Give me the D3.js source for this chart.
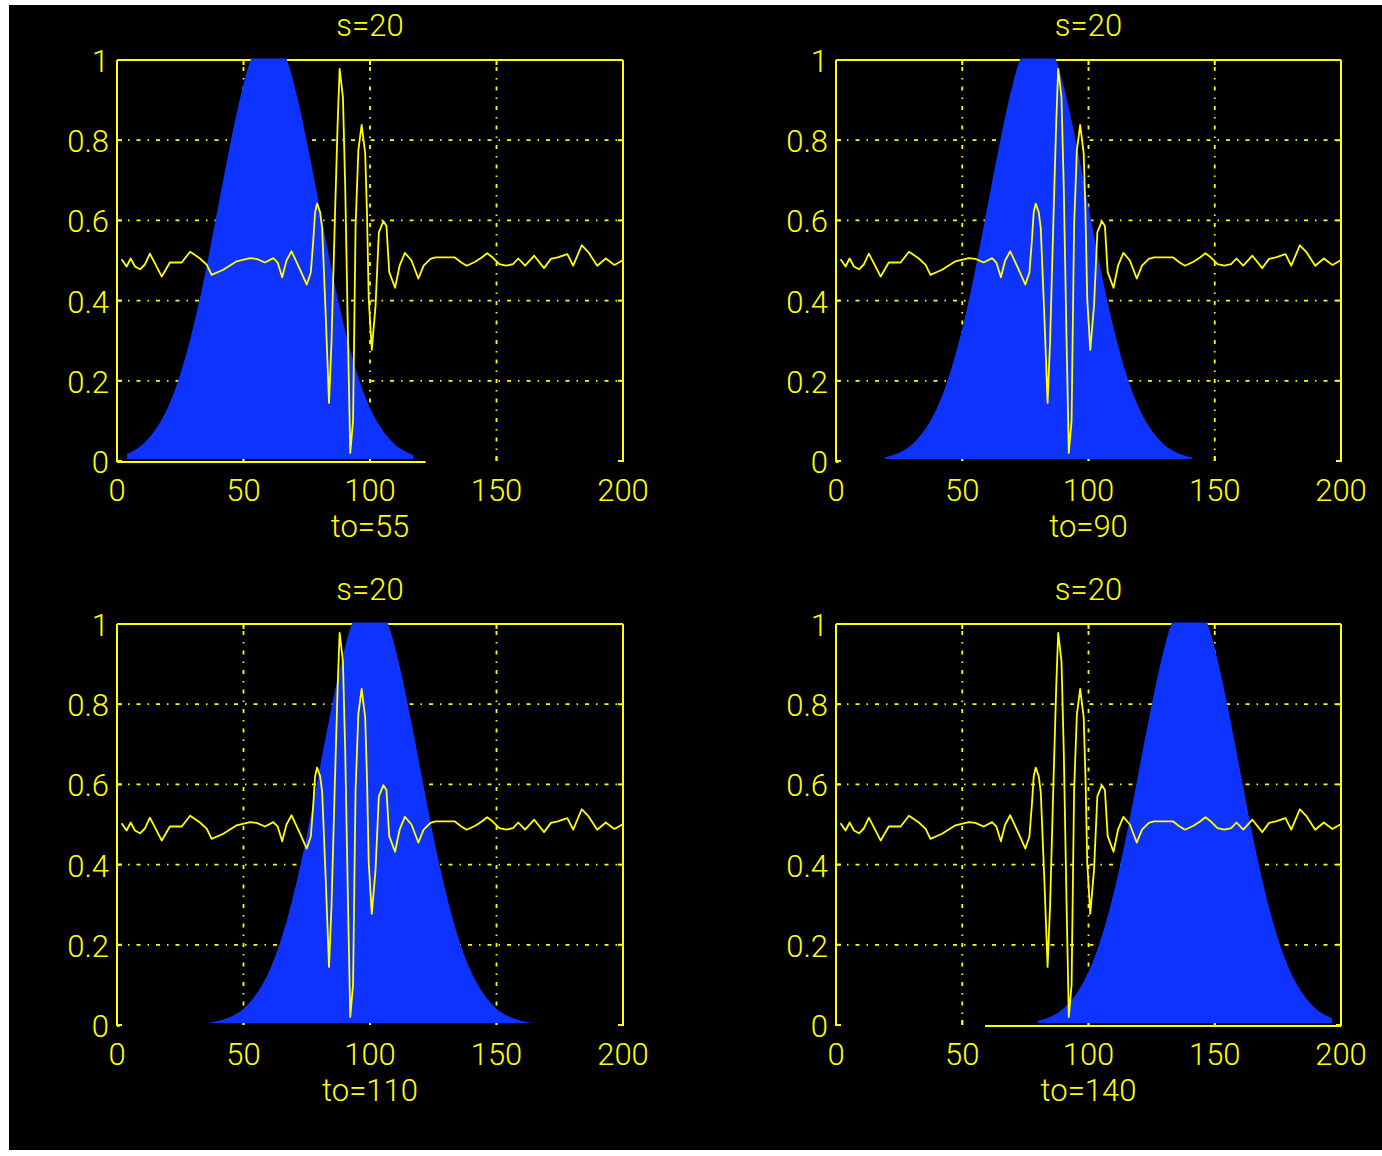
<!DOCTYPE html>
<html><head><meta charset="utf-8">
<script src="https://cdn.jsdelivr.net/npm/d3@7"></script>
<style>html,body{margin:0;padding:0;background:#fff;} svg{display:block;}</style>
</head><body><svg id="c" width="1382" height="1156"></svg>
<script>
// ---- data ----
const panelTitles = ["s=20", "s=20", "s=20", "s=20"];
const panelLabels = ["to=55", "to=90", "to=110", "to=140"];
const bellCenters = [60, 80, 100, 140];
const bellExtents = [[4, 117], [19.5, 141], [35.5, 164], [80, 196.5]];
const baseLineSpans = [[0, 122], [0, 1], [0, 1], [59, 200]];
const bellOffsets = [-64, -60, -56, -52, -48, -44, -40, -36, -32, -28, -24, -20, -16, -12, -8, -4, 0, 4, 8, 12, 16, 20, 24, 28, 32, 36, 40, 44, 48, 52, 56, 60, 64];
const bellHeights = [0.005, 0.01, 0.018, 0.031, 0.053, 0.086, 0.132, 0.197, 0.281, 0.384, 0.504, 0.635, 0.766, 0.887, 0.985, 1.047, 1.07, 1.047, 0.985, 0.887, 0.766, 0.635, 0.504, 0.384, 0.281, 0.197, 0.132, 0.086, 0.053, 0.031, 0.018, 0.01, 0.005];
const signalX = [1.8, 3.8, 5.4, 7.1, 9.1, 11.0, 13.0, 15.0, 17.7, 20.9, 25.6, 28.9, 32.8, 35.5, 37.4, 42.0, 47.3, 52.6, 55.2, 58.5, 61.8, 63.5, 65.3, 67.0, 69.0, 72.3, 75.0, 76.6, 77.6, 78.3, 79.1, 80.3, 81.1, 82.5, 83.8, 84.8, 86.1, 87.2, 88.0, 89.3, 90.2, 91.3, 92.2, 93.3, 94.3, 95.4, 96.7, 98.1, 98.8, 99.5, 100.7, 102.2, 103.5, 105.3, 106.5, 107.6, 109.9, 111.7, 113.8, 116.4, 119.1, 121.2, 123.9, 126.0, 133.4, 136.1, 138.2, 141.6, 144.3, 146.3, 148.4, 151.1, 153.8, 156.5, 158.6, 161.3, 164.9, 168.8, 171.5, 174.2, 178.0, 180.3, 183.7, 186.4, 189.8, 193.2, 196.6, 199.7];
const signalY = [0.503, 0.485, 0.505, 0.485, 0.478, 0.49, 0.517, 0.493, 0.460, 0.495, 0.495, 0.522, 0.505, 0.489, 0.464, 0.477, 0.498, 0.506, 0.504, 0.495, 0.506, 0.495, 0.458, 0.50, 0.523, 0.478, 0.440, 0.47, 0.551, 0.62, 0.642, 0.62, 0.58, 0.364, 0.145, 0.30, 0.60, 0.84, 0.978, 0.907, 0.685, 0.306, 0.02, 0.10, 0.586, 0.775, 0.838, 0.767, 0.619, 0.405, 0.277, 0.388, 0.570, 0.598, 0.586, 0.471, 0.432, 0.487, 0.519, 0.500, 0.455, 0.487, 0.504, 0.508, 0.508, 0.495, 0.487, 0.497, 0.508, 0.518, 0.508, 0.491, 0.487, 0.491, 0.505, 0.487, 0.512, 0.481, 0.504, 0.508, 0.516, 0.487, 0.538, 0.520, 0.487, 0.505, 0.489, 0.500];
const xTicks = [0, 50, 100, 150, 200];
const xTickLabels = ["0", "50", "100", "150", "200"];
const yTicks = [0, 0.2, 0.4, 0.6, 0.8, 1];
const yTickLabels = ["0", "0.2", "0.4", "0.6", "0.8", "1"];

// ---- layout / style ----
const YEL = "#ffff00", BLUE = "#0f33ff";
const FONT = "Roboto, 'Liberation Sans', Arial, sans-serif";
const FW = 300;
const boxes = [
  {l: 117, t: 60, r: 623, b: 461},
  {l: 836, t: 60, r: 1341, b: 461},
  {l: 117, t: 624, r: 623, b: 1025},
  {l: 836, t: 624, r: 1341, b: 1025}
];

const svg = d3.select("#c");
svg.append("rect").attr("x", 9).attr("y", 5).attr("width", 1373).attr("height", 1145).attr("fill", "#000");
const defs = svg.append("defs");

boxes.forEach((bx, i) => {
  const x = d3.scaleLinear().domain([0, 200]).range([bx.l, bx.r]);
  const y = d3.scaleLinear().domain([0, 1]).range([bx.b, bx.t]);
  const g = svg.append("g");

  // grid
  const dash = "4,7,1.5,7";
  g.selectAll(".gx").data(xTicks.slice(1, -1)).join("line")
    .attr("x1", d => x(d)).attr("x2", d => x(d)).attr("y1", y(0)).attr("y2", y(1))
    .attr("stroke", YEL).attr("stroke-width", 1.8).attr("stroke-dasharray", dash);
  g.selectAll(".gy").data(yTicks.slice(1, -1)).join("line")
    .attr("y1", d => y(d)).attr("y2", d => y(d)).attr("x1", x(0)).attr("x2", x(200))
    .attr("stroke", YEL).attr("stroke-width", 1.8).attr("stroke-dasharray", dash);

  // box (left, top, right) and partial bottom line
  const ln = (x1, y1, x2, y2) => g.append("line").attr("x1", x1).attr("y1", y1).attr("x2", x2).attr("y2", y2)
    .attr("stroke", YEL).attr("stroke-width", 2);
  ln(x(0), y(0) + 1, x(0), y(1));
  ln(x(0), y(1), x(200), y(1));
  ln(x(200), y(1), x(200), y(0) + 1);
  ln(x(baseLineSpans[i][0]), y(0) + 1, x(baseLineSpans[i][1]), y(0) + 1);

  // ticks
  xTicks.forEach(v => { ln(x(v), y(1), x(v), y(1) + 5); ln(x(v), y(0), x(v), y(0) - 5); });
  yTicks.forEach(v => { ln(x(0), y(v), x(0) + 5, y(v)); ln(x(200), y(v), x(200) - 5, y(v)); });

  // bell fill
  const cid = "clip" + i;
  defs.append("clipPath").attr("id", cid).append("rect")
    .attr("x", x(bellExtents[i][0])).attr("y", y(1) - 1.5)
    .attr("width", x(bellExtents[i][1]) - x(bellExtents[i][0])).attr("height", y(0) - y(1) + 1.5);
  const bell = bellOffsets.map((o, k) => ({x: bellCenters[i] + o, h: bellHeights[k]}));
  const area = d3.area().x(d => x(d.x)).y0(y(0.005)).y1(d => y(d.h)).curve(d3.curveMonotoneX);
  g.append("path").datum(bell).attr("d", area).attr("fill", BLUE).attr("clip-path", `url(#${cid})`);

  // signal
  const sig = signalX.map((v, k) => [v, signalY[k]]);
  g.append("path").datum(sig)
    .attr("d", d3.line().x(d => x(d[0])).y(d => y(d[1])))
    .attr("fill", "none").attr("stroke", YEL).attr("stroke-width", 1.8).attr("stroke-linejoin", "round");

  // tick labels
  const txt = sel => sel.attr("fill", YEL).attr("font-family", FONT).attr("font-weight", FW).attr("font-size", 31);
  g.selectAll(".xl").data(xTicks).join("text")
    .attr("x", d => x(d)).attr("y", y(0) + 40).attr("text-anchor", "middle")
    .call(txt).text((d, k) => xTickLabels[k]);
  g.selectAll(".yl").data(yTicks).join("text")
    .attr("x", x(0) - 8).attr("y", d => y(d) + 12).attr("text-anchor", "end")
    .call(txt).text((d, k) => yTickLabels[k]);

  // title and x label
  const cx = (bx.l + bx.r) / 2;
  g.append("text").attr("x", cx).attr("y", bx.t - 24).attr("text-anchor", "middle")
    .call(txt).text(panelTitles[i]);
  g.append("text").attr("x", cx).attr("y", y(0) + 76).attr("text-anchor", "middle")
    .call(txt).text(panelLabels[i]);
});
</script></body></html>
